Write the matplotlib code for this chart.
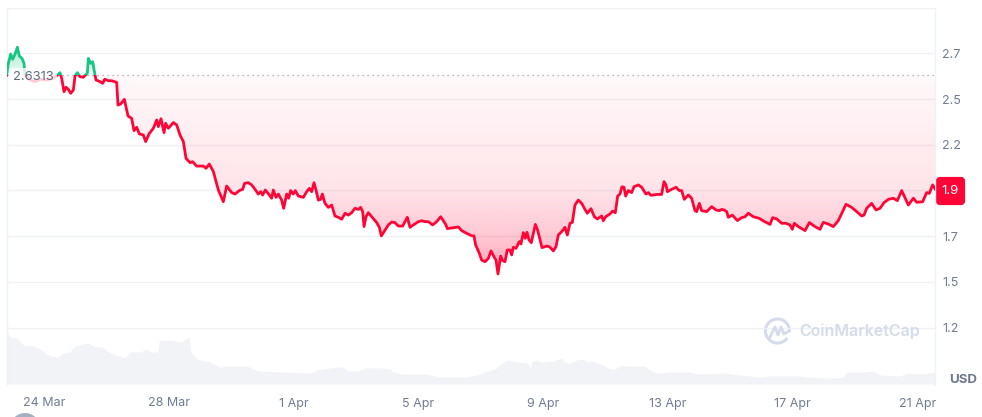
import numpy as np
import matplotlib
matplotlib.use("Agg")
import matplotlib.pyplot as plt
from matplotlib.patches import Rectangle, FancyBboxPatch, Circle, Arc
from matplotlib.lines import Line2D
from matplotlib.transforms import IdentityTransform

plt.rcParams['font.family'] = ['Inter', 'DejaVu Sans']

# days counted from 24 Mar, price in USD
days = [-1.196, -1.154, -1.068, -1.004, -0.940, -0.854, -0.790, -0.705, -0.641, -0.609, -0.448, -0.288, -0.128,
        0.086, 0.299, 0.428, 0.513, 0.567, 0.641, 0.705, 0.780, 0.855, 0.940, 0.994, 1.069, 1.154, 1.261, 1.325,
        1.389, 1.421, 1.496, 1.560, 1.635, 1.667, 1.795, 1.881, 1.945, 2.062, 2.169, 2.329, 2.372, 2.458, 2.575,
        2.693, 2.810, 2.885, 2.970, 3.056, 3.184, 3.259, 3.366, 3.505, 3.612, 3.665, 3.750, 3.847, 3.900, 3.986,
        4.146, 4.253, 4.359, 4.466, 4.552, 4.680, 4.765, 4.893, 5.107, 5.193, 5.300, 5.428, 5.588, 5.748, 5.855,
        6.015, 6.122, 6.261, 6.367, 6.432, 6.549, 6.656, 6.763, 6.870, 6.944, 7.008, 7.094, 7.222, 7.297, 7.350,
        7.436, 7.511, 7.617, 7.682, 7.778, 7.842, 7.906, 7.991, 8.055, 8.152, 8.312, 8.419, 8.504, 8.579, 8.654,
        8.718, 8.793, 8.867, 8.921, 9.006, 9.113, 9.220, 9.327, 9.434, 9.541, 9.648, 9.754, 9.861, 9.968, 10.075,
        10.150, 10.214, 10.257, 10.321, 10.395, 10.502, 10.662, 10.748, 10.812, 10.897, 11.036, 11.143, 11.250,
        11.357, 11.496, 11.571, 11.645, 11.731, 11.838, 11.998, 12.105, 12.212, 12.318, 12.457, 12.585, 12.714,
        12.820, 12.884, 12.927, 13.120, 13.280, 13.387, 13.547, 13.708, 13.782, 13.836, 13.953, 14.027, 14.134,
        14.241, 14.327, 14.433, 14.487, 14.551, 14.636, 14.701, 14.775, 14.850, 14.936, 14.989, 15.042, 15.128,
        15.235, 15.288, 15.363, 15.427, 15.480, 15.545, 15.619, 15.683, 15.748, 15.812, 15.897, 15.961, 16.057,
        16.132, 16.218, 16.325, 16.410, 16.485, 16.592, 16.698, 16.773, 16.859, 16.934, 17.019, 17.126, 17.233,
        17.340, 17.414, 17.532, 17.639, 17.735, 17.874, 17.927, 18.002, 18.141, 18.226, 18.312, 18.387, 18.461,
        18.525, 18.590, 18.643, 18.729, 18.835, 18.910, 19.049, 19.156, 19.295, 19.369, 19.455, 19.636, 19.797,
        19.872, 19.936, 19.979, 20.117, 20.256, 20.363, 20.438, 20.523, 20.652, 20.758, 20.865, 20.919, 21.004,
        21.079, 21.240, 21.400, 21.539, 21.646, 21.720, 21.795, 21.881, 21.934, 22.062, 22.223, 22.362, 22.468,
        22.575, 22.736, 22.928, 23.056, 23.270, 23.355, 23.483, 23.644, 23.782, 23.911, 23.985, 24.050, 24.178,
        24.392, 24.530, 24.712, 24.872, 24.979, 25.139, 25.300, 25.460, 25.620, 25.706, 25.887, 26.048, 26.208,
        26.283, 26.368, 26.528, 26.667, 26.795, 26.924, 27.062, 27.223, 27.351, 27.490, 27.704, 27.864, 27.971,
        28.163, 28.291, 28.376, 28.483, 28.569]
price = [2.631, 2.686, 2.746, 2.717, 2.741, 2.783, 2.735, 2.722, 2.695, 2.631, 2.604, 2.595, 2.608,
         2.604, 2.613, 2.631, 2.644, 2.613, 2.540, 2.564, 2.553, 2.531, 2.549, 2.626, 2.644, 2.622, 2.619, 2.631,
         2.640, 2.722, 2.695, 2.704, 2.631, 2.604, 2.595, 2.586, 2.608, 2.600, 2.600, 2.591, 2.467, 2.473, 2.498,
         2.407, 2.394, 2.327, 2.345, 2.309, 2.303, 2.267, 2.309, 2.340, 2.385, 2.349, 2.392, 2.316, 2.367, 2.340,
         2.371, 2.358, 2.303, 2.267, 2.175, 2.152, 2.157, 2.133, 2.133, 2.121, 2.144, 2.103, 2.002, 1.938, 2.024,
         1.988, 1.980, 1.999, 2.006, 2.039, 2.042, 2.030, 2.006, 1.980, 1.993, 1.975, 2.002, 1.975, 1.957, 2.002,
         1.962, 1.980, 1.947, 1.902, 1.980, 1.957, 1.999, 1.980, 1.999, 1.969, 1.962, 1.993, 2.011, 1.993, 2.042,
         2.002, 1.947, 1.951, 1.980, 1.929, 1.907, 1.920, 1.860, 1.853, 1.842, 1.875, 1.865, 1.878, 1.902, 1.896,
         1.907, 1.884, 1.802, 1.856, 1.878, 1.856, 1.824, 1.798, 1.751, 1.774, 1.811, 1.827, 1.824,
         1.805, 1.805, 1.829, 1.853, 1.798, 1.811, 1.829, 1.834, 1.829, 1.829, 1.811, 1.829, 1.856,
         1.829, 1.811, 1.791, 1.796, 1.800, 1.780, 1.765, 1.752, 1.751, 1.701, 1.656, 1.619, 1.610,
         1.628, 1.669, 1.634, 1.619, 1.543, 1.641, 1.616, 1.610, 1.674, 1.674, 1.647, 1.689, 1.683,
         1.720, 1.707, 1.769, 1.738, 1.771, 1.729, 1.714, 1.765, 1.814, 1.787, 1.732, 1.687, 1.692,
         1.696, 1.689, 1.669, 1.692, 1.756, 1.774, 1.798, 1.756, 1.820, 1.825, 1.920, 1.947, 1.929,
         1.896, 1.875, 1.900, 1.856, 1.844, 1.860, 1.834, 1.856, 1.871, 1.887, 1.878, 1.969, 1.980,
         2.020, 2.017, 1.969, 1.999, 1.988, 2.020, 2.030, 2.017, 1.980, 1.988, 1.973, 1.978, 1.978,
         2.048, 2.030, 1.993, 2.006, 2.017, 1.999, 1.999, 1.951, 1.975, 1.957, 1.889, 1.884, 1.929,
         1.889, 1.884, 1.911, 1.893, 1.889, 1.896, 1.893, 1.884, 1.853, 1.865, 1.835, 1.851, 1.856,
         1.875, 1.856, 1.847, 1.833, 1.814, 1.851, 1.844, 1.820, 1.820, 1.811, 1.787, 1.820, 1.802,
         1.780, 1.824, 1.802, 1.787, 1.825, 1.816, 1.802, 1.835, 1.893, 1.924, 1.907, 1.884, 1.860,
         1.865, 1.902, 1.929, 1.893, 1.902, 1.933, 1.951, 1.957, 1.944, 1.999, 1.920, 1.957, 1.935,
         1.938, 1.988, 1.984, 2.030, 2.006]

vol_days = [-1.19, -1.09, -0.87, -0.67, -0.35, -0.13, 0.19, 0.45, 0.61, 0.83, 0.99, 1.41, 1.63, 1.86, 2.12, 2.60,
            2.76, 3.08, 3.30, 3.40, 3.65, 3.69, 4.04, 4.36, 4.65, 4.71, 4.90, 5.32, 5.64, 5.87, 6.51, 6.86, 7.66,
            8.53, 8.75, 9.17, 9.42, 9.58, 9.74, 10.06, 10.29, 10.83, 11.09, 11.19, 11.51, 12.28, 12.63, 13.56,
            13.88, 14.20, 14.46, 14.68, 14.87, 15.19, 15.51, 15.58, 15.64, 15.80, 15.90, 16.31, 16.60, 16.70,
            16.86, 17.08, 17.24, 17.44, 17.60, 17.92, 18.14, 18.30, 18.53, 18.69, 19.26, 19.52, 19.74, 19.97,
            20.71, 20.93, 21.83, 22.31, 22.95, 23.27, 24.23, 24.46, 25.10, 25.42, 25.61, 25.74, 26.15, 26.57,
            26.79, 27.44, 27.66, 28.17, 28.56]
volume = [53, 47, 46, 39, 38, 35, 28, 27, 31, 32, 38, 41, 37, 37, 31, 26,
          32, 32, 35, 32, 32, 43, 44, 42, 47, 32, 25, 22, 17, 18, 18, 13, 12,
          11, 14, 16, 17, 17, 13, 13, 16, 16, 15, 12, 10, 10, 7, 7,
          9, 13, 15, 21, 24, 22, 21, 16, 23, 24, 22, 23, 26, 21,
          21, 24, 25, 22, 23, 19, 15, 15, 19, 18, 18, 12, 11, 12,
          12, 10, 11, 9, 7, 8, 8, 7, 6, 6, 7, 12, 12, 13,
          9, 8, 11, 10, 12]

base_price = 2.6313
grid_ticks = [3.0, 2.75, 2.5, 2.25, 2.0, 1.75, 1.5, 1.25]
grid_labels = ['', '2.7', '2.5', '2.2', '', '1.7', '1.5', '1.2']
date_ticks = [0, 4, 8, 12, 16, 20, 24, 28]
date_labels = ['24 Mar', '28 Mar', '1 Apr', '5 Apr', '9 Apr', '13 Apr', '17 Apr', '21 Apr']
last_label = '1.9'

RED = '#ff0537'
GREEN = '#16c784'
GRID = '#eff2f5'
TXT = '#707c92'

W, H = 982, 417
fig = plt.figure(figsize=(W / 100, H / 100), dpi=100)
ax = fig.add_axes([7 / W, (H - 385) / H, 928 / W, 377.4 / H])
xlim = (-1.186, 28.558)
ylim = (0.9355, 3.0)
ax.set_facecolor('none')

# volume underneath, 1 unit = 1 px tall
ax2 = fig.add_axes(ax.get_position(), sharex=ax)
ax2.set_zorder(0)
ax.set_zorder(1)
ax2.fill_between(vol_days, 0, volume, color='#f1f3f7', lw=0)
ax2.set_ylim(-1, 376.4)
ax2.axis('off')

# filled area with a gradient, clipped to line vs baseline
area = ax.fill_between(days, price, base_price, facecolor='none', edgecolor='none')
clip = area.get_paths()[0]

red_v = np.linspace(1.5, base_price, 120)
red_a = np.interp(red_v, [1.5, 1.75, 2.0, 2.3, base_price], [0.38, 0.22, 0.11, 0.07, 0.03])
red_img = np.zeros((120, 1, 4))
red_img[..., :3] = matplotlib.colors.to_rgb(RED)
red_img[:, 0, 3] = red_a
im1 = ax.imshow(red_img, origin='lower', aspect='auto', zorder=1,
                extent=(xlim[0], xlim[1], 1.5, base_price))
im1.set_clip_path(clip, ax.transData)

green_v = np.linspace(base_price, 2.8, 40)
green_img = np.zeros((40, 1, 4))
green_img[..., :3] = matplotlib.colors.to_rgb(GREEN)
green_img[:, 0, 3] = np.interp(green_v, [base_price, 2.8], [0.06, 0.42])
im2 = ax.imshow(green_img, origin='lower', aspect='auto', zorder=1,
                extent=(xlim[0], xlim[1], base_price, 2.8))
im2.set_clip_path(clip, ax.transData)

ax.axhline(base_price, color='#9aa3b2', lw=0.9, ls=(0, (1, 3)), zorder=2)

line_red, = ax.plot(days, price, color=RED, lw=2.0, zorder=3, solid_joinstyle='round')
line_green, = ax.plot(days, price, color=GREEN, lw=2.0, zorder=3, solid_joinstyle='round')
line_red.set_clip_path(Rectangle((xlim[0], 0), xlim[1] - xlim[0], base_price, transform=ax.transData))
line_green.set_clip_path(Rectangle((xlim[0], base_price), xlim[1] - xlim[0], 1, transform=ax.transData))

ax.text(-1.0, 2.62, '2.6313', fontsize=9.4, color='#5f6c84', va='center', ha='left', zorder=4,
        bbox=dict(facecolor='white', edgecolor='none', alpha=0.8, pad=2.5))

ax.set_xlim(xlim)
ax.set_ylim(ylim)
ax.yaxis.tick_right()
ax.set_yticks(grid_ticks)
ax.set_yticklabels(grid_labels)
ax.set_xticks(date_ticks)
ax.set_xticklabels(date_labels)
ax.tick_params(axis='y', length=0, labelsize=9, labelcolor=TXT, pad=5)
ax.tick_params(axis='x', length=0, labelsize=9, labelcolor=TXT, pad=9)
ax.grid(axis='y', color=GRID, lw=1)
ax.set_axisbelow(True)
for s in ['top', 'bottom']:
    ax.spines[s].set_visible(False)
for s in ['left', 'right']:
    ax.spines[s].set_color(GRID)
    ax.spines[s].set_linewidth(1)

# last price tag, usd label, watermark: placed in pixels
px = IdentityTransform()
fig.add_artist(FancyBboxPatch((938, H - 203), 25, 24, boxstyle='round,pad=0,rounding_size=2',
                              mutation_scale=1, facecolor=RED, edgecolor=RED, lw=3, transform=px))
fig.text(950 / W, (H - 191) / H, last_label, color='white', fontsize=9.5, ha='center', va='center')
fig.text(963 / W, (H - 380) / H, 'USD', color='#6b7890', fontsize=9.5, fontweight='bold', ha='center', va='center')

LOGO = '#d5dbea'
fig.add_artist(Arc((777.5, H - 331), 24, 24, theta1=-5, theta2=325, color=LOGO, lw=2.2, transform=px))
fig.add_artist(Line2D([770, 775, 778, 781, 784, 789], [H - 337, H - 327, H - 335, H - 327, H - 334, H - 331],
                      color=LOGO, lw=2, transform=px))
fig.text(799 / W, (H - 331) / H, 'CoinMarketCap', color=LOGO, fontsize=11.5, fontweight='semibold',
         ha='left', va='center')

fig.add_artist(Circle((25, H - 428), 15, facecolor='#a6b0c3', edgecolor='none', transform=px))

fig.savefig('out.png', dpi=100)
